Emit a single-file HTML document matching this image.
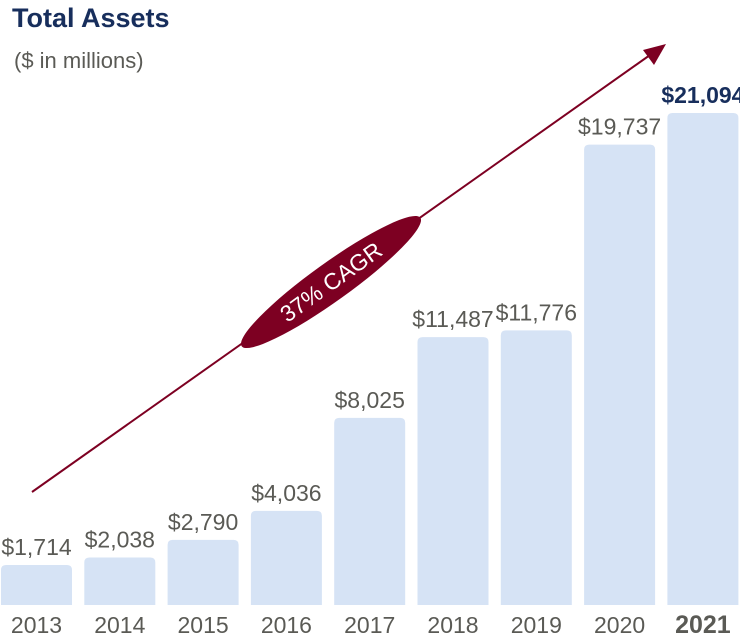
<!DOCTYPE html>
<html><head><meta charset="utf-8"><style>
body{margin:0;background:#fff;}
svg{display:block;font-family:"Liberation Sans Narrow","Liberation Sans",sans-serif;}
</style></head><body>
<svg width="740" height="640" viewBox="0 0 740 640">
<text x="12" y="27" font-size="27" font-weight="bold" fill="#172e5c">Total Assets</text>
<text x="14" y="68" font-size="22" fill="#5a5a55">($ in millions)</text>
<g id="bars"></g>
<g>
<line x1="32" y1="492" x2="650" y2="55" stroke="#7d0022" stroke-width="2"/>
<polygon points="666,44 643,50 654,65" fill="#7d0022"/>
<ellipse cx="331" cy="282" rx="110" ry="19" transform="rotate(-35.7 331 282)" fill="#7d0022"/>
<text x="331" y="290" font-size="23" fill="#fff" text-anchor="middle" transform="rotate(-35.7 331 282)">37% CAGR</text>
</g>
</svg>
<script>
const years=["2013","2014","2015","2016","2017","2018","2019","2020","2021"];
const assets=[1714,2038,2790,4036,8025,11487,11776,19737,21094];
const valueLabels=["$1,714","$2,038","$2,790","$4,036","$8,025","$11,487","$11,776","$19,737","$21,094"];
const NS="http://www.w3.org/2000/svg";
const g=document.getElementById("bars");
const base=605, scale=492/21094;
const xs=i=>1+i*83.3, bw=71;
years.forEach((y,i)=>{
  const h=assets[i]*scale, top=base-h, last=i===years.length-1;
  const r=document.createElementNS(NS,"path");
  const x=xs(i), rr=5;
  r.setAttribute("d",`M${x},${base}V${top+rr}Q${x},${top} ${x+rr},${top}H${x+bw-rr}Q${x+bw},${top} ${x+bw},${top+rr}V${base}Z`);
  r.setAttribute("fill","#d6e3f5");
  
  
  g.appendChild(r);
  const t=document.createElementNS(NS,"text");
  t.setAttribute("x",x+bw/2);t.setAttribute("y",top-10);
  t.setAttribute("text-anchor","middle");t.setAttribute("font-size","23");
  t.setAttribute("fill",last?"#172e5c":"#5a5a55");
  if(last)t.setAttribute("font-weight","bold");
  t.textContent=valueLabels[i];
  
  
  g.appendChild(t);
  const l=document.createElementNS(NS,"text");
  l.setAttribute("x",x+bw/2);l.setAttribute("y",633);
  l.setAttribute("text-anchor","middle");l.setAttribute("font-size",last?"25":"23");
  l.setAttribute("fill","#5a5a55");
  if(last)l.setAttribute("font-weight","bold");
  l.textContent=y;
  
  
  g.appendChild(l);
});
</script>
</body></html>
